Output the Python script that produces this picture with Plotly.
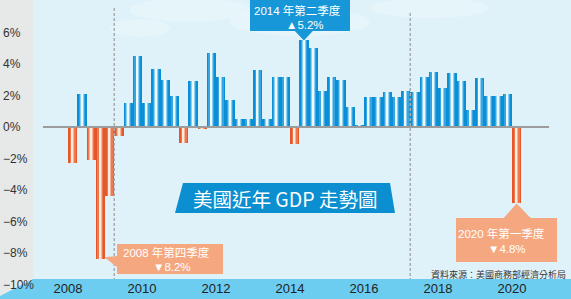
import plotly.graph_objects as go

# ---------------- data ----------------
years = [2008]*4 + [2009]*4 + [2010]*4 + [2011]*4 + [2012]*4 + [2013]*4 + \
        [2014]*4 + [2015]*4 + [2016]*4 + [2017]*4 + [2018]*4 + [2019]*4 + [2020]
quarters = [1, 2, 3, 4]*12 + [1]
gdp_growth = [
    -2.3, 2.1, -2.1, -8.4,   # 2008
    -4.4, -0.6, 1.5, 4.5,    # 2009
    1.5, 3.7, 3.0, 2.0,      # 2010
    -1.0, 2.9, -0.1, 4.7,    # 2011
    3.2, 1.7, 0.5, 0.5,      # 2012
    3.6, 0.5, 3.2, 3.2,      # 2013
    -1.1, 5.5, 5.0, 2.3,     # 2014
    3.2, 3.0, 1.3, 0.1,      # 2015
    1.9, 1.9, 2.2, 1.9,      # 2016
    2.3, 2.2, 3.2, 3.5,      # 2017
    2.5, 3.4, 2.9, 1.1,      # 2018
    3.1, 2.0, 2.0, 2.1,      # 2019
    -4.8,                    # 2020
]
year_ticks = [2008, 2010, 2012, 2014, 2016, 2018, 2020]
year_tick_text = ["2008", "2010", "2012", "2014", "2016", "2018", "2020"]
pct_ticks = [-10, -8, -6, -4, -2, 0, 2, 4, 6]
pct_tick_text = ["−10%", "−8%", "−6%", "−4%", "−2%", "0%", "2%", "4%", "6%"]

callout_quarters = [(2014, 2), (2008, 4), (2020, 1)]
callout_line1 = ["2014 年第二季度", "2008 年第四季度", "2020 年第一季度"]
callout_line2 = ["▲5.2%", "▼8.2%", "▼4.8%"]
title_text = "美國近年 GDP 走勢圖"
source_text = "資料來源：美國商務部經濟分析局"
recession_marks = [2009.25, 2017.25]

# ---------------- geometry helpers (decorations only) ----------------
W, H = 571, 299
PX_PER_YEAR = 37.0
X_ORIGIN_PX = 68.0          # pixel of 2008.0
PX_PER_PCT = 15.75
ZERO_PX = 127.0

def dx(px):
    return 2008 + (px - X_ORIGIN_PX) / PX_PER_YEAR

def dy(py):
    return (ZERO_PX - py) / PX_PER_PCT

def path(pts):
    return "M " + " L ".join(f"{dx(a):.4f},{dy(b):.4f}" for a, b in pts) + " Z"

xs = [y + (q - 0.5) / 4 for y, q in zip(years, quarters)]

fig = go.Figure()

pos_cols = ["#0a8ed6", "#35a6e2", "#8ccff0", "#eef9fd"]
neg_cols = ["#e4572a", "#ec7a4e", "#f6b497", "#fdebe2"]
widths = [0.25, 0.16, 0.10, 0.045]
for w, pc, nc in zip(widths, pos_cols, neg_cols):
    fig.add_trace(go.Bar(
        x=xs, y=gdp_growth, width=w,
        marker=dict(color=[pc if v >= 0 else nc for v in gdp_growth], line=dict(width=0)),
        hoverinfo="skip", showlegend=False,
    ))

shapes = []
# left gray strip
shapes.append(dict(type="path", path=path([(0, 0), (33, 0), (33, 279), (0, 296)]),
                   fillcolor="#e7e8e8", line=dict(width=0), layer="below"))
# bottom band
shapes.append(dict(type="path", path=path([(0, 296), (33, 279), (W, 279), (W, H + 2), (0, H + 2)]),
                   fillcolor="#6ccdf0", line=dict(width=0), layer="below"))
# soft clouds at top
for cx, cy, rx, ry in [(190, 10, 60, 12), (300, 22, 70, 14), (430, 8, 60, 10), (140, 28, 30, 9)]:
    shapes.append(dict(type="circle", x0=dx(cx - rx), x1=dx(cx + rx), y0=dy(cy + ry), y1=dy(cy - ry),
                       fillcolor="rgba(255,255,255,0.22)", line=dict(width=0), layer="below"))
# zero line
shapes.append(dict(type="line", x0=dx(43), x1=dx(549), y0=0, y1=0,
                   line=dict(color="#9c9c9c", width=2), layer="above"))
# dashed markers
for xm, top in zip(recession_marks, [8, 13]):
    shapes.append(dict(type="line", x0=xm, x1=xm, y0=dy(top), y1=dy(279),
                       line=dict(color="#a9acae", width=1.5, dash="3px,2px"), layer="above"))
# title parallelogram
shapes.append(dict(type="path", path=path([(183, 183), (390, 183), (395, 213), (175, 213)]),
                   fillcolor="#0b8fd0", line=dict(width=0), layer="above"))

annotations = []
# y tick labels, left aligned in the gray strip
for v, t in zip(pct_ticks, pct_tick_text):
    annotations.append(dict(x=dx(1), y=v, text=t, showarrow=False, xanchor="left",
                            yanchor="middle",
                            font=dict(size=12, color="#333333", family="Liberation Sans")))

# callouts anchored to bars
callout_idx = [list(zip(years, quarters)).index(c) for c in callout_quarters]
for k, idx in enumerate(callout_idx):
    bx = X_ORIGIN_PX + (xs[idx] - 2008) * PX_PER_YEAR
    by = ZERO_PX - gdp_growth[idx] * PX_PER_PCT
    if k == 0:   # box above, pointer down
        col = "#1797d8"
        box = [(250, 0), (350, 0), (350, 31), (bx + 9, 31), (bx, by), (bx - 9, 31), (250, 31)]
        t1, t2 = (297, 10), (305, 25)
    elif k == 1:  # box right, pointer left
        col = "#f5a77f"
        box = [(117, 244), (223, 244), (223, 274), (117, 274), (117, 267), (bx + 4, by - 2), (117, 256)]
        t1, t2 = (166, 252), (172, 267)
    else:        # box below, pointer up
        col = "#f5a77f"
        box = [(456, 218), (bx - 13, 218), (bx, by + 1), (bx + 14, 218), (557, 218), (557, 262), (456, 262)]
        t1, t2 = (501, 233), (507, 249)
    shapes.append(dict(type="path", path=path(box), fillcolor=col, line=dict(width=0), layer="above"))
    for (tx, ty), txt in [(t1, callout_line1[k]), (t2, callout_line2[k])]:
        annotations.append(dict(x=dx(tx), y=dy(ty), text=txt, showarrow=False,
                                xanchor="center", yanchor="middle",
                                font=dict(size=11.5, color="white",
                                          family="Liberation Sans, Noto Sans CJK TC")))

annotations.append(dict(x=dx(285), y=dy(198), text=title_text, showarrow=False,
                        xanchor="center", yanchor="middle",
                        font=dict(size=19.5, color="white", family="Noto Sans CJK TC")))
annotations.append(dict(x=dx(568), y=dy(274), text=source_text, showarrow=False,
                        xanchor="right", yanchor="middle",
                        font=dict(size=9, color="#333333", family="Noto Sans CJK TC")))

fig.update_layout(
    width=W, height=H, margin=dict(l=0, r=0, t=0, b=0),
    barmode="overlay", bargap=0,
    plot_bgcolor="#dff2f9", paper_bgcolor="#dff2f9",
    shapes=shapes, annotations=annotations, showlegend=False,
    xaxis=dict(range=[dx(0), dx(W)], tickvals=year_ticks, ticktext=year_tick_text,
               ticklabelposition="inside", ticks="", showgrid=False, zeroline=False,
               showline=False, fixedrange=True,
               tickfont=dict(size=13, color="#222222", family="Liberation Sans")),
    yaxis=dict(range=[dy(H), dy(0)], showticklabels=False,
               ticks="", showgrid=False, zeroline=False,
               showline=False, fixedrange=True),
)

fig.write_html("out.html", config={"displayModeBar": False})
